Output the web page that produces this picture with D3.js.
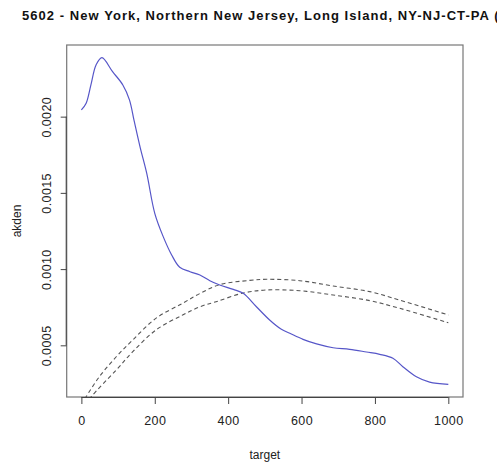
<!DOCTYPE html>
<html>
<head>
<meta charset="utf-8">
<script src="https://cdn.jsdelivr.net/npm/d3@7"></script>
<style>
  html, body { margin: 0; padding: 0; background: #fff; }
  svg { display: block; }
  text { font-family: "Liberation Sans", Arial, Helvetica, sans-serif; }
</style>
</head>
<body>
<svg id="chart" width="497" height="464"></svg>
<script>
// Adaptive kernel density estimate (solid) and reference band (dashed)
const densityX = [0, 13, 26, 40, 56, 85, 113, 131, 144, 160, 178, 200, 223, 246, 268, 296, 323, 350, 377, 414, 441, 477, 513, 545, 568, 604, 641, 686, 731, 777, 813, 849, 876, 913, 949, 1000];
const densityY = [0.002044, 0.002088, 0.002208, 0.002339, 0.002387, 0.002295, 0.002208, 0.00211, 0.00197, 0.0018, 0.001629, 0.001366, 0.001213, 0.001093, 0.001012, 0.000983, 0.000961, 0.000924, 0.000896, 0.000867, 0.000841, 0.000753, 0.000666, 0.000605, 0.000579, 0.000539, 0.000509, 0.000484, 0.000474, 0.000456, 0.000441, 0.000415, 0.00036, 0.000294, 0.000259, 0.000244];

const upperX = [0, 13, 49, 95, 140, 203, 276, 323, 377, 459, 505, 595, 686, 786, 867, 1000];
const upperY = [0.00011, 0.000163, 0.000294, 0.000425, 0.000535, 0.000677, 0.000776, 0.00084, 0.000898, 0.000926, 0.000933, 0.000924, 0.000889, 0.000852, 0.000797, 0.000699];

const lowerX = [0, 26, 95, 140, 203, 276, 323, 367, 441, 505, 595, 686, 786, 867, 1000];
const lowerY = [0.00007, 0.00016, 0.000338, 0.000458, 0.0006, 0.000699, 0.000753, 0.000786, 0.000843, 0.000863, 0.000858, 0.00083, 0.000793, 0.000743, 0.000648];

const xTicks = [0, 200, 400, 600, 800, 1000];
const yTicks = [0.0005, 0.0010, 0.0015, 0.0020];

const titleText = "5602 - New York, Northern New Jersey, Long Island, NY-NJ-CT-PA (CMSA)";
const xLabel = "target";
const yLabel = "akden";

const svg = d3.select("#chart");
const plot = { left: 66.7, right: 463, top: 45, bottom: 397 };

const x = d3.scaleLinear().domain([-40, 1040]).range([plot.left, plot.right]);
const y = d3.scaleLinear().domain([0.000161, 0.00247]).range([plot.bottom, plot.top]);

svg.append("defs").append("clipPath").attr("id", "plotClip")
  .append("rect")
  .attr("x", plot.left).attr("y", plot.top)
  .attr("width", plot.right - plot.left).attr("height", plot.bottom - plot.top);

// Title (runs past the right edge of the page)
svg.append("text")
  .attr("x", 22).attr("y", 20)
  .attr("font-size", 13).attr("font-weight", "bold").attr("fill", "#111")
  .attr("letter-spacing", 1.05)
  .text(titleText);

// Plot frame
svg.append("rect")
  .attr("x", plot.left).attr("y", plot.top)
  .attr("width", plot.right - plot.left).attr("height", plot.bottom - plot.top)
  .attr("fill", "none").attr("stroke", "#777").attr("stroke-width", 1.2);

// Bottom axis
const xAxis = svg.append("g").attr("transform", `translate(0,${plot.bottom})`)
  .call(d3.axisBottom(x).tickValues(xTicks).tickSize(7).tickPadding(12).tickFormat(d3.format("d")));
xAxis.select(".domain").attr("d", `M${x(xTicks[0])},0.5H${x(xTicks[xTicks.length - 1])}`).attr("stroke", "#444");
xAxis.selectAll(".tick line").attr("stroke", "#444");
xAxis.selectAll(".tick text").attr("font-size", 12.5).attr("fill", "#222")
  .attr("letter-spacing", 0.4)
  .attr("font-family", "Liberation Sans, Arial, sans-serif");

// Left axis with rotated labels
const yAxis = svg.append("g").attr("transform", `translate(${plot.left},0)`)
  .call(d3.axisLeft(y).tickValues(yTicks).tickSize(6).tickFormat(d3.format(".4f")));
yAxis.select(".domain").attr("d", `M-0.5,${y(yTicks[0])}V${y(yTicks[yTicks.length - 1])}`).attr("stroke", "#444");
yAxis.selectAll(".tick line").attr("stroke", "#444");
yAxis.selectAll(".tick text")
  .attr("font-size", 12.5).attr("fill", "#222")
  .attr("letter-spacing", 0.4)
  .attr("font-family", "Liberation Sans, Arial, sans-serif")
  .attr("text-anchor", "middle")
  .attr("x", 0).attr("dy", 0)
  .attr("transform", "translate(-15.5,0) rotate(-90)");

// Axis titles
svg.append("text")
  .attr("x", (plot.left + plot.right) / 2).attr("y", 459)
  .attr("text-anchor", "middle").attr("font-size", 12).attr("fill", "#222")
  .text(xLabel);
svg.append("text")
  .attr("transform", `translate(21,${(plot.top + plot.bottom) / 2}) rotate(-90)`)
  .attr("text-anchor", "middle").attr("font-size", 12).attr("fill", "#222")
  .text(yLabel);

const lines = svg.append("g").attr("clip-path", "url(#plotClip)");
const lineGen = d3.line().x(d => x(d[0])).y(d => y(d[1])).curve(d3.curveCatmullRom.alpha(0.5));

lines.append("path")
  .datum(d3.zip(upperX, upperY))
  .attr("d", lineGen).attr("fill", "none")
  .attr("stroke", "#555").attr("stroke-width", 1.1).attr("stroke-dasharray", "4,3");
lines.append("path")
  .datum(d3.zip(lowerX, lowerY))
  .attr("d", lineGen).attr("fill", "none")
  .attr("stroke", "#555").attr("stroke-width", 1.1).attr("stroke-dasharray", "4,3");
lines.append("path")
  .datum(d3.zip(densityX, densityY))
  .attr("d", lineGen).attr("fill", "none")
  .attr("stroke", "#5656c8").attr("stroke-width", 1.2);
</script>
</body>
</html>
